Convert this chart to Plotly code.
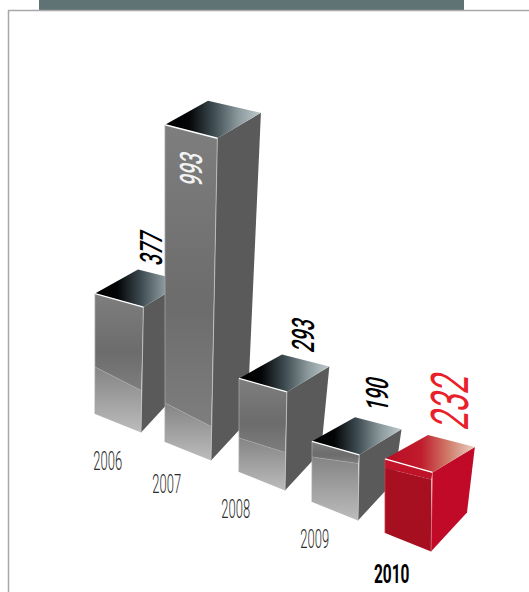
import plotly.graph_objects as go

years = ["2006", "2007", "2008", "2009", "2010"]
values = [377, 993, 293, 190, 232]

# Oblique projection of each column onto the page (page pixels, y downward)
UNITS_PER_PX = 3.13
foot_x = [95, 165, 239, 312, 385]
foot_y = [414, 442, 472, 502, 533]
crease_left = [47, 39, 34, 45, 65]
crease_front = [42, 34, 38, 57, 72]

value_pos = [(151, 248), (191, 169), (303, 335), (377, 394), (450, 400)]
year_pos = [(107, 461), (166, 484), (235, 509), (314, 539), (391, 574)]

GREY_TOP = [[0, "#000000"], [0.25, "#040506"], [0.5, "#3c4a50"], [0.76, "#8a989c"], [1, "#c0cacc"]]
RED_TOP = [[0, "#b80c24"], [0.4, "#c01c2c"], [0.7, "#cf7a68"], [1, "#ecd0c4"]]
GREY_UPPER = [[0, "#7e7e7e"], [0.6, "#6c6c6c"], [1, "#7e7e7e"]]
GREY_LOWER = [[0, "#848484"], [1, "#bcbcbc"]]
RED_UPPER = [[0, "#c4142c"], [1, "#bc1228"]]
RED_LOWER = [[0, "#a81022"], [1, "#a60f20"]]

fig = go.Figure()


def face(points, color=None, scale=None, direction=None, start=None, stop=None):
    xs = [p[0] for p in points] + [points[0][0]]
    ys = [p[1] for p in points] + [points[0][1]]
    kw = {}
    if scale is not None:
        kw["fillgradient"] = dict(type=direction, colorscale=scale, start=start, stop=stop)
    else:
        kw["fillcolor"] = color
    fig.add_trace(go.Scatter(x=xs, y=ys, mode="none", fill="toself", hoverinfo="skip", **kw))


def edge(a, b, color, width):
    fig.add_trace(go.Scatter(x=[a[0], b[0]], y=[a[1], b[1]], mode="lines",
                             line=dict(color=color, width=width), hoverinfo="skip"))


for i, v in enumerate(values):
    h = v / UNITS_PER_PX
    red = years[i] == "2010"
    fx, fy = foot_x[i], foot_y[i]
    # base corners
    bl = (fx, fy)
    bf = (fx + 46, fy + 18.5)
    br = (fx + 82, fy - 20.5)
    # top corners, the far end of a tall column spreads a little
    tl = (fx, fy - h)
    tf = (tl[0] + 46 + 0.02 * h, tl[1] + 13.5)
    tr = (tl[0] + 88 + 0.025 * h, tl[1] - 12)
    tb = (tl[0] + 43, tl[1] - 24)
    # seam across the front face
    cl = (fx, fy - crease_left[i])
    cf = (bf[0] + 0.3, bf[1] - crease_front[i])

    face([tf, tr, br, bf], color="#c00a28" if red else "#5a5a5a")
    face([tl, tf, cf, cl], scale=RED_UPPER if red else GREY_UPPER, direction="vertical",
         start=tl[1], stop=cf[1])
    face([cl, cf, bf, bl], scale=RED_LOWER if red else GREY_LOWER, direction="vertical",
         start=cl[1], stop=bf[1])
    face([tl, tb, tr, tf], scale=RED_TOP if red else GREY_TOP, direction="horizontal",
         start=tl[0], stop=tr[0])

    edge(tf, bf, "#d86a78" if red else "#c4c4c4", 0.8)
    edge(tl, bl, "#c8404e" if red else "#a4a4a4", 0.8)
    edge(tl, tf, "#ffffff", 1.3)
    if not red:
        edge(cl, cf, "#a8a8a8", 0.6)

for i, v in enumerate(values):
    red = years[i] == "2010"
    white = v == 993
    fig.add_annotation(x=value_pos[i][0], y=value_pos[i][1], text=str(v), showarrow=False,
                       textangle=-90,
                       font=dict(family="Roboto", size=52 if red else 31,
                                 color="#e8202a" if red else ("#f2f2f2" if white else "#000000"),
                                 weight=400 if red else 500))
    fig.add_annotation(x=year_pos[i][0], y=year_pos[i][1], text=years[i], showarrow=False,
                       font=dict(family="Roboto", size=25, color="#000000" if red else "#2a2a2a",
                                 weight=700 if red else 300))

fig.update_layout(
    width=529, height=592, margin=dict(l=0, r=0, t=0, b=0),
    paper_bgcolor="#ffffff", plot_bgcolor="#ffffff", showlegend=False,
    xaxis=dict(range=[0, 529], visible=False, fixedrange=True),
    yaxis=dict(range=[592, 0], visible=False, fixedrange=True),
    shapes=[
        dict(type="rect", xref="x", yref="y", x0=39, x1=464, y0=0, y1=10,
             fillcolor="#5f7375", line_width=0, layer="below"),
        dict(type="line", xref="x", yref="y", x0=8, x1=529, y0=10.5, y1=10.5,
             line=dict(color="#a8a8a8", width=1.5), layer="below"),
        dict(type="line", xref="x", yref="y", x0=8.5, x1=8.5, y0=10, y1=592,
             line=dict(color="#a8a8a8", width=1.5), layer="below"),
    ],
)

# Squeeze the labels into a condensed cut and lean only the rotated figures
condense = """
document.querySelectorAll('.annotation-text').forEach(function (t) {
  var b = t.getBBox(), cx = b.x + b.width / 2, cy = b.y + b.height / 2;
  var g = t.closest('.annotation-text-g').getAttribute('transform') || '';
  var rotated = /rotate\\(-90/.test(g);
  var shear = rotated ? -0.22 : 0;
  var squeeze = (rotated || String(t.style.fontWeight) === '700') ? 0.62 : 0.52;
  t.setAttribute('transform', 'translate(' + cx + ',' + cy + ') matrix(' + squeeze + ',0,' + shear + ',1,0,0) translate(' + (-cx) + ',' + (-cy) + ')');
});
"""
fig.write_html("out.html", post_script=condense, config=dict(displayModeBar=False))
